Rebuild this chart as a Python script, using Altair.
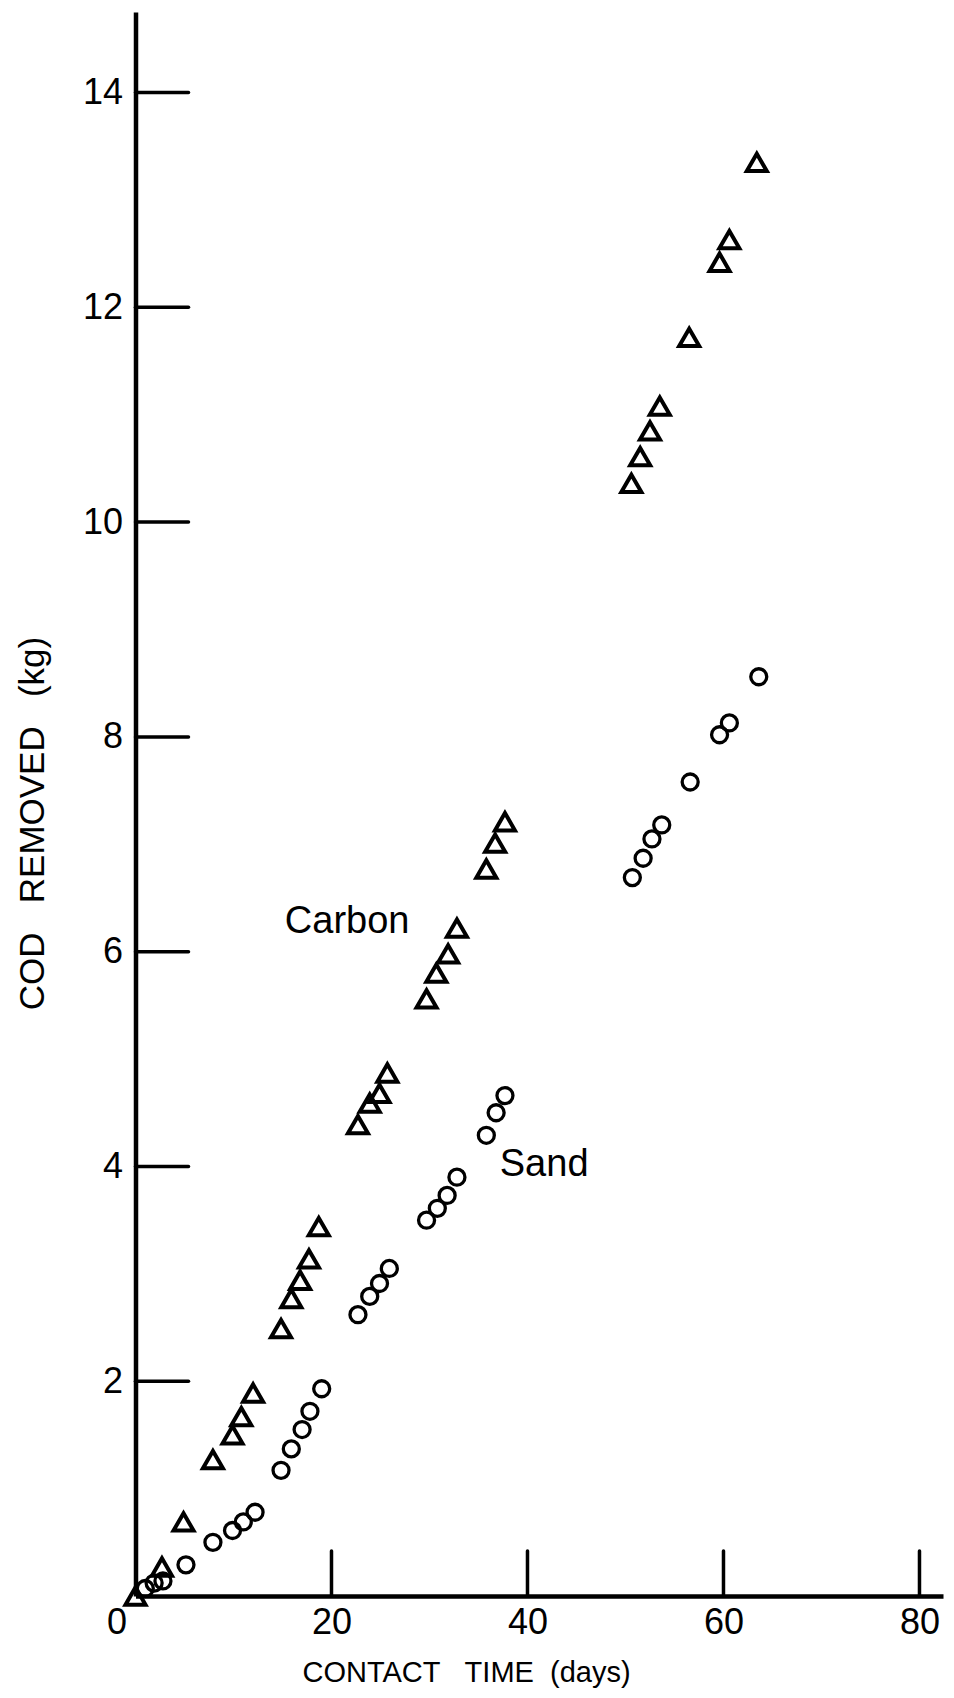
import altair as alt
import pandas as pd

# ---- data ----
carbon_days = [0.0, 2.7, 4.9, 7.9, 9.9, 10.8, 12.0, 14.85, 15.9, 16.8, 17.7, 18.7,
               22.7, 23.9, 24.9, 25.7, 29.7, 30.7, 31.9, 32.8, 35.8, 36.7, 37.7,
               50.6, 51.5, 52.5, 53.5, 56.5, 59.6, 60.6, 63.4]
carbon_cod = [0.0, 0.27, 0.69, 1.27, 1.50, 1.67, 1.89, 2.49, 2.77, 2.94, 3.14, 3.44,
              4.39, 4.59, 4.68, 4.87, 5.56, 5.80, 5.98, 6.22, 6.77, 7.01, 7.21,
              10.36, 10.61, 10.85, 11.08, 11.72, 12.42, 12.63, 13.35]

sand_days = [1.0, 1.9, 2.8, 5.15, 7.9, 9.9, 11.0, 12.2, 14.85, 15.9, 17.0, 17.8, 19.0,
             22.7, 23.9, 24.9, 25.9, 29.7, 30.8, 31.8, 32.8, 35.8, 36.8, 37.7,
             50.7, 51.8, 52.7, 53.7, 56.6, 59.6, 60.6, 63.6]
sand_cod = [0.07, 0.12, 0.14, 0.29, 0.50, 0.61, 0.69, 0.78, 1.17, 1.37, 1.55, 1.72, 1.93,
            2.62, 2.79, 2.91, 3.05, 3.50, 3.61, 3.73, 3.90, 4.29, 4.50, 4.66,
            6.69, 6.87, 7.05, 7.18, 7.58, 8.02, 8.13, 8.56]

x_label_values = [0, 20, 40, 60, 80]
x_tick_values = [20, 40, 60, 80]
y_tick_values = [2, 4, 6, 8, 10, 12, 14]

note_text = ["Carbon", "Sand"]
note_days = [21.6, 41.7]
note_cod = [6.28, 4.01]

SP2 = "\u00a0\u00a0"
SP3 = "\u00a0\u00a0\u00a0"
x_title = "CONTACT" + SP3 + "TIME" + SP2 + "(days)"
y_title = "COD" + SP3 + "REMOVED" + SP3 + "(kg)"

# ---- tables ----
carbon_df = pd.DataFrame({"days": carbon_days, "cod": carbon_cod})
sand_df = pd.DataFrame({"days": sand_days, "cod": sand_cod})
ytick_df = pd.DataFrame({"cod": y_tick_values})
xtick_df = pd.DataFrame({"days": x_tick_values})
note_df = pd.DataFrame({"days": note_days, "cod": note_cod, "text": note_text})

W = 807.5
H = 1584
FONT = "Liberation Sans"
INK = "black"

x_scale = alt.Scale(domain=[0, 82.4], nice=False, zero=False)
y_scale = alt.Scale(domain=[0, 14.75], nice=False, zero=False)

x_axis = alt.Axis(
    values=x_label_values, format="d", title=x_title,
    ticks=False, grid=False,
    domainColor=INK, domainWidth=4.5,
    labelFont=FONT, labelFontSize=36, labelColor=INK, labelPadding=9,
    labelOffset={"condition": {"test": "datum.value == 0", "value": -19}, "value": 0},
    labelFlush=False,
    titleFont=FONT, titleFontSize=29, titleFontWeight="normal", titleColor=INK,
    titleX=330.5, titleY=76, titleBaseline="middle", titleAlign="center",
)
y_axis = alt.Axis(
    values=y_tick_values, format="d", title=y_title,
    ticks=False, grid=False,
    domainColor=INK, domainWidth=4.5,
    labelFont=FONT, labelFontSize=36, labelColor=INK, labelPadding=13,
    labelFlush=False,
    titleFont=FONT, titleFontSize=35, titleFontWeight="normal", titleColor=INK,
    titleX=-103.5, titleY=811, titleBaseline="middle", titleAlign="center",
)

x_enc = alt.X("days:Q", scale=x_scale, axis=x_axis)
y_enc = alt.Y("cod:Q", scale=y_scale, axis=y_axis)

carbon = alt.Chart(carbon_df).mark_point(
    shape="triangle-up", size=400, filled=False, stroke=INK, strokeWidth=4, opacity=1
).encode(x=x_enc, y=y_enc)

sand = alt.Chart(sand_df).mark_point(
    shape="circle", size=256, filled=False, stroke=INK, strokeWidth=3.3, opacity=1
).encode(x="days:Q", y="cod:Q")

yticks = alt.Chart(ytick_df).mark_rule(color=INK, strokeWidth=3.5, strokeCap="round").encode(
    y="cod:Q", x=alt.value(0), x2=alt.value(53)
)
xticks = alt.Chart(xtick_df).mark_rule(color=INK, strokeWidth=3.5, strokeCap="round").encode(
    x="days:Q", y=alt.value(H), y2=alt.value(H - 45)
)

notes = alt.Chart(note_df).mark_text(
    font=FONT, fontSize=38, color=INK, align="center", baseline="middle"
).encode(x="days:Q", y="cod:Q", text="text:N")

chart = alt.layer(carbon, sand, yticks, xticks, notes).properties(
    width=W, height=H,
    autosize=alt.AutoSizeParams(type="none"),
    padding={"left": 127.5, "top": 4, "right": 2, "bottom": 92},
    background="white",
).configure_view(stroke=None)

chart.save("out.html", embed_options={"renderer": "svg", "actions": False})
